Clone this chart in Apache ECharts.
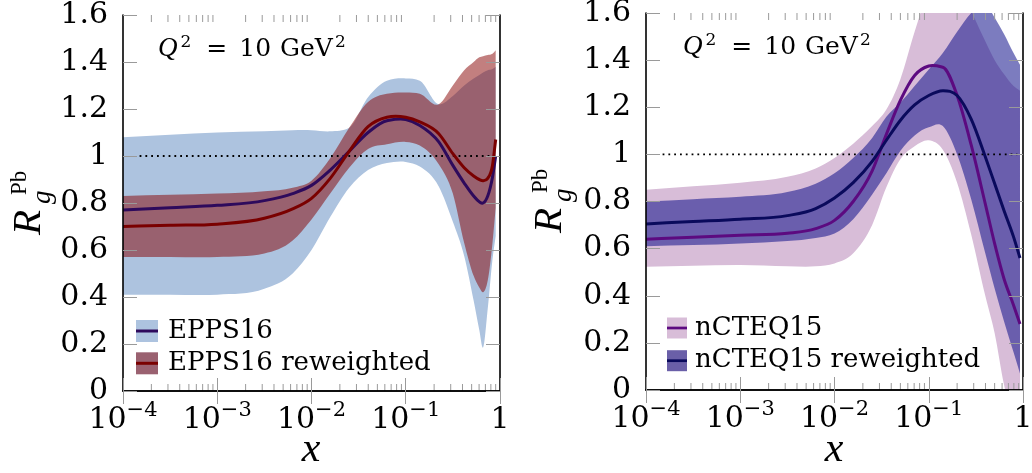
<!DOCTYPE html>
<html><head><meta charset="utf-8">
<script src="https://cdn.jsdelivr.net/npm/echarts@6/dist/echarts.min.js"></script>
<style>html,body{margin:0;padding:0;background:#fff}#c{width:1032px;height:473px}</style>
</head><body><div id="c"></div>
<script>
// ---------------- data ----------------
// left panel (EPPS16) sample points in x
const xLeft = [1e-4, 3.16e-4, 1e-3, 3.16e-3, 6.31e-3, 0.01, 0.0158, 0.0251, 0.0398, 0.0631, 0.1, 0.141, 0.224, 0.316, 0.417, 0.525, 0.603, 0.661, 0.741, 0.832, 0.9];
const eppsCentral = [0.77, 0.78, 0.79, 0.81, 0.84, 0.875, 0.94, 1.02, 1.10, 1.15, 1.155, 1.13, 1.06, 0.96, 0.885, 0.83, 0.805, 0.80, 0.83, 0.91, 1.0];
const eppsUpper   = [1.08, 1.09, 1.10, 1.105, 1.11, 1.11, 1.105, 1.12, 1.25, 1.32, 1.33, 1.32, 1.22, 1.255, 1.30, 1.33, 1.345, 1.355, 1.365, 1.37, 1.38];
const eppsLower   = [0.41, 0.41, 0.41, 0.435, 0.50, 0.60, 0.74, 0.865, 0.94, 0.97, 0.975, 0.955, 0.87, 0.72, 0.575, 0.385, 0.26, 0.185, 0.35, 0.56, 0.66];
const eppsRwCentral = [0.70, 0.705, 0.71, 0.735, 0.775, 0.82, 0.905, 1.02, 1.125, 1.165, 1.165, 1.145, 1.095, 1.01, 0.95, 0.915, 0.90, 0.895, 0.905, 0.96, 1.07];
const eppsRwUpper   = [0.83, 0.835, 0.84, 0.85, 0.865, 0.895, 0.99, 1.12, 1.23, 1.265, 1.27, 1.265, 1.22, 1.30, 1.365, 1.40, 1.42, 1.425, 1.43, 1.435, 1.45];
const eppsRwLower   = [0.57, 0.57, 0.57, 0.585, 0.64, 0.73, 0.84, 0.95, 1.03, 1.05, 1.06, 1.045, 0.965, 0.84, 0.63, 0.49, 0.44, 0.42, 0.47, 0.63, 0.78];

// right panel (nCTEQ15) sample points in x
const xRight = [1e-4, 3.16e-4, 1e-3, 3.16e-3, 6.31e-3, 0.01, 0.0158, 0.0251, 0.0355, 0.0501, 0.0708, 0.1, 0.141, 0.2, 0.282, 0.398, 0.501, 0.631, 0.794, 0.929];
const ncteqCentral = [0.64, 0.648, 0.657, 0.665, 0.685, 0.72, 0.80, 0.93, 1.085, 1.23, 1.335, 1.375, 1.37, 1.25, 1.04, 0.79, 0.62, 0.47, 0.36, 0.28];
const ncteqUpper   = [0.85, 0.865, 0.88, 0.905, 0.94, 0.985, 1.045, 1.12, 1.19, 1.32, 1.52, 1.70, 1.80, 1.75, 1.61, 1.48, 1.40, 1.34, 1.29, 1.27];
const ncteqLower   = [0.523, 0.527, 0.53, 0.525, 0.525, 0.537, 0.58, 0.70, 0.86, 0.98, 1.035, 1.06, 1.02, 0.88, 0.66, 0.40, 0.24, 0.02, -0.13, -0.22];
const ncteqRwCentral = [0.705, 0.715, 0.725, 0.74, 0.77, 0.815, 0.88, 0.97, 1.06, 1.145, 1.21, 1.25, 1.27, 1.25, 1.15, 0.99, 0.875, 0.76, 0.65, 0.56];
const ncteqRwUpper   = [0.80, 0.81, 0.82, 0.84, 0.875, 0.92, 0.985, 1.07, 1.16, 1.22, 1.29, 1.36, 1.43, 1.52, 1.60, 1.64, 1.58, 1.51, 1.43, 1.38];
const ncteqRwLower   = [0.61, 0.615, 0.622, 0.632, 0.645, 0.664, 0.725, 0.83, 0.92, 1.015, 1.08, 1.115, 1.12, 1.00, 0.81, 0.58, 0.43, 0.29, 0.16, 0.07];

// reference line R = 1
const refLineX = [1.5e-4, 0.87];
const refLineY = 1;

// axes
const xMin = 1e-4, xMax = 1;
const yMin = 0, yMax = 1.6, yStep = 0.2;
const minorX = [];
[1e-4, 1e-3, 1e-2, 1e-1].forEach(d => { for (let k = 2; k <= 9; k++) minorX.push(+(k * d).toPrecision(3)); });

const legendLeft  = ['EPPS16', 'EPPS16 reweighted'];
const legendRight = ['nCTEQ15', 'nCTEQ15 reweighted'];
const titleText = ['Q', '2', '=', '10', 'GeV', '2'];

// ---------------- styling ----------------
const FF = '"DejaVu Serif", serif';
const FI = '"Liberation Serif", serif';
const C = {
  eppsBand: '#adc3df', eppsRwBand: 'rgba(134,0,0,0.5)', eppsLine: '#2e0a5c', eppsRwLine: '#7a0000',
  eppsSw: '#adc3df', eppsRwSw: '#9a6170',
  ncBand: '#d8bdd8', ncRwBand: 'rgba(17,17,139,0.55)', ncLine: '#5c0a80', ncRwLine: '#0a0a5c',
  ncSw: '#d8bdd8', ncRwSw: '#6a5fa8'
};
const tickGray = '#9a9a9a';

function segs(pts) {
  const n = pts.length, t = [];
  for (let k = 0; k < n; k++) {
    if (k === 0) { t.push((pts[1][1] - pts[0][1]) / (pts[1][0] - pts[0][0])); continue; }
    if (k === n - 1) { t.push((pts[k][1] - pts[k - 1][1]) / (pts[k][0] - pts[k - 1][0])); continue; }
    const h0 = pts[k][0] - pts[k - 1][0], h1 = pts[k + 1][0] - pts[k][0];
    const d0 = (pts[k][1] - pts[k - 1][1]) / h0, d1 = (pts[k + 1][1] - pts[k][1]) / h1;
    let tk = (h1 * d0 + h0 * d1) / (h0 + h1);
    if (d0 * d1 > 0) {
      const lim = 3 * Math.min(Math.abs(d0), Math.abs(d1));
      if (Math.abs(tk) > lim) tk = Math.sign(tk) * lim;
    }
    t.push(tk);
  }
  let s = '';
  for (let k = 0; k < n - 1; k++) {
    const [x0, y0] = pts[k], [x1, y1] = pts[k + 1], h = x1 - x0;
    s += ' C' + (x0 + h / 3) + ',' + (y0 + t[k] * h / 3) + ' ' + (x1 - h / 3) + ',' + (y1 - t[k + 1] * h / 3) + ' ' + x1 + ',' + y1;
  }
  return s;
}
function clipRect(params) {
  const cs = params.coordSys;
  return { type: 'rect', shape: { x: cs.x, y: cs.y, width: cs.width, height: cs.height } };
}
function bandSeries(name, xs, lo, hi, color, p) {
  return {
    type: 'custom', name, xAxisIndex: p * 2, yAxisIndex: p * 2, clip: true, z: 2, silent: true,
    data: xs.map((x, i) => [x, lo[i], hi[i]]),
    encode: { x: 0, y: [1, 2] },
    renderItem(params, api) {
      if (params.dataIndex !== 0) return null;
      const up = [], dn = [];
      for (let i = 0; i < xs.length; i++) {
        const x = api.value(0, i);
        up.push(api.coord([x, api.value(2, i)]));
        dn.push(api.coord([x, api.value(1, i)]));
      }
      dn.reverse();
      const d = 'M' + up[0][0] + ',' + up[0][1] + segs(up) + ' L' + dn[0][0] + ',' + dn[0][1] + segs(dn) + ' Z';
      return { type: 'group', clipPath: clipRect(params), children: [{ type: 'path', shape: { pathData: d }, style: { fill: color, stroke: null } }] };
    }
  };
}
function curveSeries(name, xs, ys, color, p) {
  return {
    type: 'custom', name, xAxisIndex: p * 2, yAxisIndex: p * 2, clip: true, z: 4, silent: true,
    data: xs.map((x, i) => [x, ys[i]]),
    encode: { x: 0, y: 1 },
    renderItem(params, api) {
      if (params.dataIndex !== 0) return null;
      const pts = [];
      for (let i = 0; i < xs.length; i++) pts.push(api.coord([api.value(0, i), api.value(1, i)]));
      const d = 'M' + pts[0][0] + ',' + pts[0][1] + segs(pts);
      return { type: 'group', clipPath: clipRect(params), children: [{ type: 'path', shape: { pathData: d }, style: { fill: null, stroke: color, lineWidth: 3 } }] };
    }
  };
}
function refSeries(p) {
  return {
    type: 'line', xAxisIndex: p * 2, yAxisIndex: p * 2, z: 3, silent: true, symbol: 'none',
    data: refLineX.map(x => [x, refLineY]),
    lineStyle: { color: '#000', width: 1.8, type: [1.8, 4] }
  };
}
// minor log ticks (2..9 x 10^n) on bottom and top edges, placed through the x scale
function minorTickSeries(p) {
  return {
    type: 'custom', xAxisIndex: p * 2, yAxisIndex: p * 2, z: 6, silent: true, clip: false,
    data: minorX.map(v => [v, yMin]),
    encode: { x: 0, y: 1 },
    renderItem(params, api) {
      const b = api.coord([api.value(0), yMin]);
      const t = api.coord([api.value(0), yMax]);
      const st = { stroke: tickGray, lineWidth: 1 };
      return { type: 'group', children: [
        { type: 'line', shape: { x1: b[0], y1: b[1], x2: b[0], y2: b[1] - 7 }, style: st },
        { type: 'line', shape: { x1: t[0], y1: t[1], x2: t[0], y2: t[1] + 7 }, style: st }
      ] };
    }
  };
}

function xAxes(p) {
  const base = { gridIndex: p, type: 'log', logBase: 10, min: xMin, max: xMax, z: 10, splitLine: { show: false },
    axisLine: { show: true, lineStyle: { color: '#000', width: 1.6 } },
    axisTick: { show: true, inside: true, length: 13, lineStyle: { color: tickGray, width: 1 } } };
  return [
    Object.assign({}, base, {
      position: 'bottom',
      axisLabel: {
        margin: 9,
        formatter: v => { const e = Math.round(Math.log10(v)); return e === 0 ? '{b|1}' : '{b|10}{s|\u2212' + (-e) + '}'; },
        rich: { b: { fontSize: 30, fontFamily: FF, color: '#000', lineHeight: 40 },
                s: { fontSize: 21, fontFamily: FF, color: '#000', lineHeight: 21, verticalAlign: 'top' } }
      }
    }),
    Object.assign({}, base, { position: 'top', axisLabel: { show: false } })
  ];
}
function yAxes(p) {
  const base = { gridIndex: p, type: 'value', min: yMin, max: yMax, interval: yStep, z: 10, splitLine: { show: false },
    axisLine: { show: true, lineStyle: { color: '#000', width: 1.6 } },
    axisTick: { show: true, inside: true, length: 14, lineStyle: { color: tickGray, width: 1 } } };
  return [
    Object.assign({}, base, { position: 'left', axisLabel: { show: true, margin: 15, fontSize: 30, fontFamily: FF, color: '#000' } }),
    Object.assign({}, base, { position: 'right', axisLabel: { show: false } })
  ];
}
function legends(names, swatch, lines, left, top, w, h, gap, pad) {
  const common = { orient: 'vertical', left, top, itemWidth: w, itemHeight: h, itemGap: gap, padding: 0, selectedMode: false,
    itemStyle: { borderWidth: 0 } };
  return [
    Object.assign({}, common, { z: 4,
      data: names.map((n, i) => ({ name: n, icon: 'rect', itemStyle: { color: swatch[i], borderWidth: 0, opacity: 1 } })),
      textStyle: { fontFamily: FF, fontSize: 26, color: '#000', lineHeight: h, padding: [0, 0, 0, pad] } }),
    Object.assign({}, common, { z: 5,
      data: names.map((n, i) => ({ name: n, icon: 'path://M0,0H22V3H0Z', itemStyle: { color: lines[i], borderWidth: 0, opacity: 1 } })),
      textStyle: { fontFamily: FF, fontSize: 26, color: 'rgba(0,0,0,0)', lineHeight: h, padding: [0, 0, 0, pad] } })
  ];
}
function yLabel(x0, y0) {
  return { type: 'group', x: x0, y: y0, rotation: Math.PI / 2, silent: true, children: [
    { type: 'text', x: 0, y: -14, style: { text: 'R', font: 'italic 41px ' + FI, fill: '#000', align: 'left', verticalAlign: 'middle' } },
    { type: 'text', x: 31, y: 0, style: { text: 'g', font: 'italic 27px ' + FI, fill: '#000', align: 'left', verticalAlign: 'middle' } },
    { type: 'text', x: 40, y: -23, style: { text: 'Pb', font: '23px ' + FI, fill: '#000', align: 'left', verticalAlign: 'middle' } }
  ] };
}
function title(x0, y0) {
  return { type: 'text', x: x0, y: y0, silent: true, style: {
    text: '{q|' + titleText[0] + '}{s|' + titleText[1] + '}{e|' + titleText[2] + '}{n|' + titleText[3] + '}{g|' + titleText[4] + '}{t|' + titleText[5] + '}',
    align: 'left', verticalAlign: 'top', fill: '#000',
    rich: {
      q: { font: 'italic 27px ' + FI, lineHeight: 30 },
      s: { font: '17px ' + FF, lineHeight: 17, verticalAlign: 'top', padding: [0, 0, 0, 3] },
      e: { font: '25px ' + FF, lineHeight: 30, padding: [0, 0, 0, 15] },
      n: { font: '25px ' + FF, lineHeight: 30, padding: [0, 0, 0, 12] },
      g: { font: '25px ' + FF, lineHeight: 30, padding: [0, 0, 0, 9] },
      t: { font: '17px ' + FF, lineHeight: 17, verticalAlign: 'top', padding: [0, 0, 0, 2] }
    } } };
}
function xName(cx, cy) {
  return { type: 'text', x: cx, y: cy, silent: true, style: { text: 'x', font: 'italic 42px ' + FI, fill: '#000', align: 'center', verticalAlign: 'middle' } };
}

const option = {
  animation: false,
  backgroundColor: '#fff',
  grid: [
    { left: 123, top: 15, width: 377, height: 376, outerBoundsMode: 'none', containLabel: false },
    { left: 646, top: 13, width: 377, height: 377, outerBoundsMode: 'none', containLabel: false }
  ],
  xAxis: [...xAxes(0), ...xAxes(1)],
  yAxis: [...yAxes(0), ...yAxes(1)],
  legend: [
    ...legends(legendLeft, [C.eppsSw, C.eppsRwSw], [C.eppsLine, C.eppsRwLine], 136, 318, 22, 22, 6.3, 5),
    ...legends(legendRight, [C.ncSw, C.ncRwSw], [C.ncLine, C.ncRwLine], 667, 315, 20, 21, 6.7, 3)
  ],
  graphic: [
    yLabel(43, 235), yLabel(564, 233),
    title(158, 34), title(683, 32),
    xName(311, 450), xName(834, 450)
  ],
  series: [
    bandSeries(legendLeft[0], xLeft, eppsLower, eppsUpper, C.eppsBand, 0),
    bandSeries(legendLeft[1], xLeft, eppsRwLower, eppsRwUpper, C.eppsRwBand, 0),
    refSeries(0),
    curveSeries(legendLeft[0], xLeft, eppsCentral, C.eppsLine, 0),
    curveSeries(legendLeft[1], xLeft, eppsRwCentral, C.eppsRwLine, 0),
    minorTickSeries(0),
    bandSeries(legendRight[0], xRight, ncteqLower, ncteqUpper, C.ncBand, 1),
    bandSeries(legendRight[1], xRight, ncteqRwLower, ncteqRwUpper, C.ncRwBand, 1),
    refSeries(1),
    curveSeries(legendRight[0], xRight, ncteqCentral, C.ncLine, 1),
    curveSeries(legendRight[1], xRight, ncteqRwCentral, C.ncRwLine, 1),
    minorTickSeries(1)
  ]
};
const chart = echarts.init(document.getElementById('c'), null, { renderer: 'canvas' });
chart.setOption(option);
</script>
</body></html>
